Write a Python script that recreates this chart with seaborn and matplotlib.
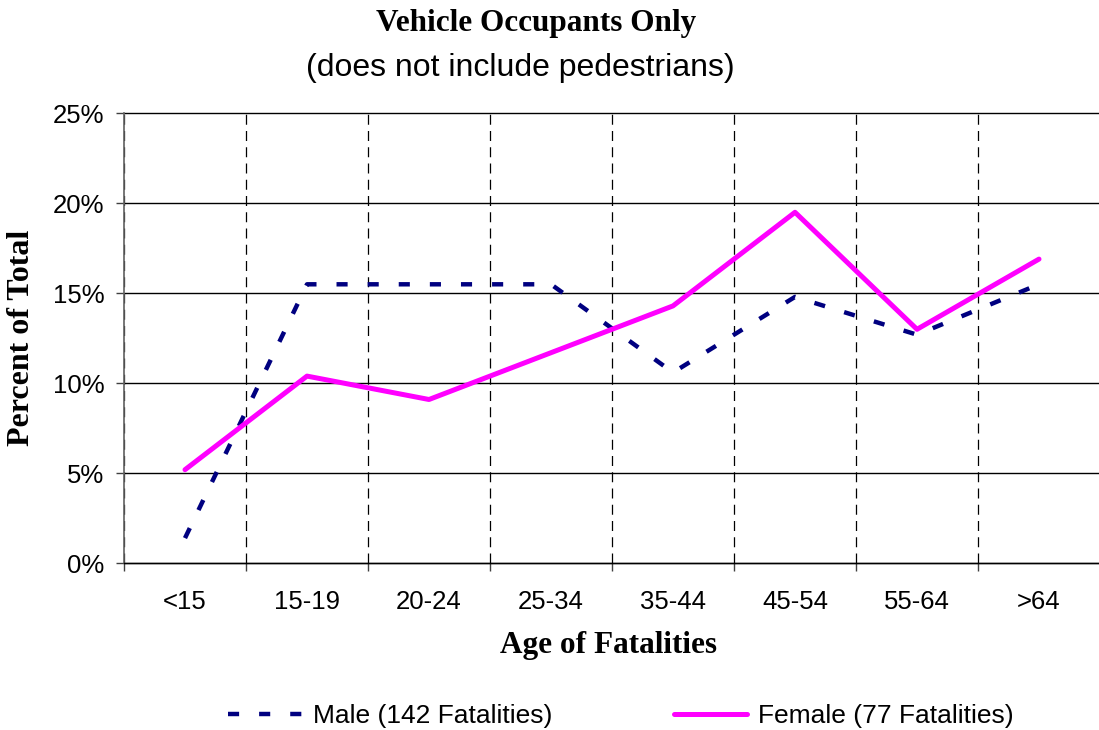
import numpy as np
import pandas as pd
import seaborn as sns
import matplotlib.pyplot as plt
from matplotlib.ticker import FixedLocator

ages = ['<15', '15-19', '20-24', '25-34', '35-44', '45-54', '55-64', '>64']
male = [1.4, 15.5, 15.5, 15.5, 10.6, 14.8, 12.7, 15.5]
female = [5.2, 10.4, 9.1, 11.7, 14.3, 19.5, 13.0, 16.9]
male_label = 'Male (142 Fatalities)'
female_label = 'Female (77 Fatalities)'

sns.set_theme(style='white')
plt.rcParams['font.family'] = ['Liberation Sans', 'DejaVu Sans']
plt.rcParams['text.color'] = 'black'
plt.rcParams['axes.labelcolor'] = 'black'
plt.rcParams['xtick.color'] = 'black'
plt.rcParams['ytick.color'] = 'black'
serif = ['Liberation Serif', 'DejaVu Serif']

df = pd.DataFrame({'age': ages, 'male': male, 'female': female})

fig = plt.figure(figsize=(10.99, 7.30), dpi=100)
ax = fig.add_axes([124 / 1099, 1 - 563.3 / 730, 976 / 1099, 450 / 730])

sns.lineplot(data=df, x='age', y='male', sort=False, ax=ax,
             color='#000080', linewidth=3.2, linestyle=(0, (2.5, 4.5)),
             label=male_label)
sns.lineplot(data=df, x='age', y='female', sort=False, ax=ax,
             color='#FF00FF', linewidth=3.6, solid_capstyle='round',
             label=female_label)

ax.set_xlim(-0.5, len(ages) - 0.5)
ax.set_ylim(0, 25)
ax.set_yticks(np.arange(0, 26, 5))
ax.set_yticklabels([f'{v}%' for v in range(0, 26, 5)])
ax.xaxis.set_minor_locator(FixedLocator(np.arange(-0.5, len(ages), 1)))
ax.tick_params(axis='x', which='major', length=0, pad=19, labelsize=18.5,
               labelcolor='black')
ax.tick_params(axis='x', which='minor', length=6, width=1, color='#404040',
               direction='out', bottom=True)
ax.tick_params(axis='y', length=6, width=1, color='#404040', pad=8,
               labelsize=18.5, left=True, labelcolor='black')

ax.grid(False)
ax.grid(axis='y', which='major', color='black', linewidth=1)
ax.grid(axis='x', which='minor', color='black', linewidth=0.9,
        linestyle=(0, (8, 5)))
for gl in ax.get_ygridlines():
    gl.set_clip_on(False)

for side in ['top', 'right']:
    ax.spines[side].set_visible(False)
ax.spines['left'].set_color('#606060')
ax.spines['left'].set_linewidth(1.2)
ax.spines['bottom'].set_color('black')
ax.spines['bottom'].set_linewidth(1)

ax.set_xlabel('')
ax.set_ylabel('')
fig.text(22 / 1099, 1 - 338 / 730, 'Percent of Total', rotation=90,
         ha='center', va='center', fontsize=23, fontweight='bold',
         family=serif)
fig.text(608 / 1099, 1 - 646 / 730, 'Age of Fatalities',
         ha='center', va='center', fontsize=22.5, fontweight='bold',
         family=serif)
fig.text(536 / 1099, 1 - 23 / 730, 'Vehicle Occupants Only',
         ha='center', va='center', fontsize=22.5, fontweight='bold',
         family=serif)
fig.text(520 / 1099, 1 - 68 / 730, '(does not include pedestrians)',
         ha='center', va='center', fontsize=23)

ax.get_legend().remove()
handles, labels = ax.get_legend_handles_labels()
fig.legend(handles, labels, loc='center', ncol=2,
           bbox_to_anchor=(621 / 1099, 1 - 716 / 730), frameon=False,
           fontsize=19, handlelength=2.8, handletextpad=0.4,
           columnspacing=4.6, labelcolor='black')

fig.savefig('out.png', dpi=100)
